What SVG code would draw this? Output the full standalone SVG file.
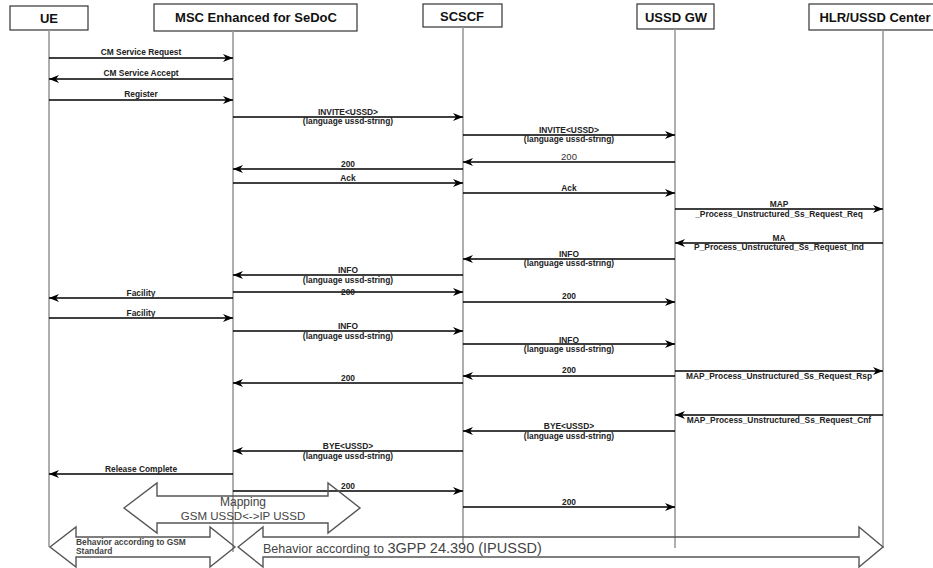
<svg xmlns="http://www.w3.org/2000/svg" width="933" height="568" viewBox="0 0 933 568">
  <defs>
    <marker id="ah" viewBox="0 0 10 8" refX="10" refY="4" markerWidth="10" markerHeight="8" markerUnits="userSpaceOnUse" orient="auto">
      <path d="M0,0 L10,4 L0,8 L3,4 z" fill="#000"/>
    </marker>
    <style>
      .box { fill: #fff; stroke: #333; stroke-width: 1.2; }
      .hdr { font-family: "Liberation Sans", Arial, sans-serif; font-weight: bold; font-size: 13px; fill: #111; text-anchor: middle; }
      .life { stroke: #9a9a9a; stroke-width: 1.6; }
      .msg { stroke: #000; stroke-width: 1.4; fill: none; marker-end: url(#ah); }
      .lbl { font-family: "Liberation Sans", Arial, sans-serif; font-weight: bold; font-size: 8.4px; fill: #222; text-anchor: middle; }
      .lbl2 { font-family: "Liberation Sans", Arial, sans-serif; font-size: 9.5px; fill: #333; text-anchor: middle; }
      .blk { fill: none; stroke: #555; stroke-width: 1.4; stroke-linejoin: miter; }
      .note { font-family: "Liberation Sans", Arial, sans-serif; fill: #444; }
    </style>
  </defs>
  <rect width="933" height="568" fill="#fff"/>

  <!-- participants with their lifelines -->
  <g id="ue">
    <rect class="box" x="10" y="6" width="78" height="24"/>
    <text class="hdr" x="49" y="23">UE</text>
    <line class="life" x1="49" y1="30" x2="49" y2="547"/>
  </g>
  <g id="msc">
    <rect class="box" x="154" y="4" width="203" height="27"/>
    <text class="hdr" x="256" y="22">MSC Enhanced for SeDoC</text>
    <line class="life" x1="233" y1="31" x2="233" y2="552"/>
  </g>
  <g id="scscf">
    <rect class="box" x="423" y="4" width="79" height="23"/>
    <text class="hdr" x="462" y="21">SCSCF</text>
    <line class="life" x1="463" y1="27" x2="463" y2="545"/>
  </g>
  <g id="ussdgw">
    <rect class="box" x="637" y="4" width="77" height="25"/>
    <text class="hdr" x="676" y="22">USSD GW</text>
    <line class="life" x1="675" y1="29" x2="675" y2="548"/>
  </g>
  <g id="hlr">
    <rect class="box" x="809" y="4" width="130" height="26"/>
    <text class="hdr" x="875" y="22">HLR/USSD Center</text>
    <line class="life" x1="883" y1="30" x2="883" y2="548"/>
  </g>

  <!-- messages -->
  <g id="messages">
    <line class="msg" x1="49" y1="58" x2="233" y2="58"/>
    <text class="lbl" x="141" y="55">CM Service Request</text>

    <line class="msg" x1="233" y1="79" x2="49" y2="79"/>
    <text class="lbl" x="141" y="76">CM Service Accept</text>

    <line class="msg" x1="49" y1="100" x2="233" y2="100"/>
    <text class="lbl" x="141" y="97">Register</text>

    <line class="msg" x1="233" y1="117" x2="463" y2="117"/>
    <text class="lbl" x="348" y="115">INVITE&lt;USSD&gt;</text>
    <text class="lbl" x="348" y="124">(language ussd-string)</text>

    <line class="msg" x1="463" y1="135" x2="675" y2="135"/>
    <text class="lbl" x="569" y="133">INVITE&lt;USSD&gt;</text>
    <text class="lbl" x="569" y="142">(language ussd-string)</text>

    <line class="msg" x1="675" y1="162" x2="463" y2="162"/>
    <text class="lbl2" x="569" y="160">200</text>

    <line class="msg" x1="463" y1="169" x2="233" y2="169"/>
    <text class="lbl" x="348" y="167">200</text>

    <line class="msg" x1="233" y1="183" x2="463" y2="183"/>
    <text class="lbl" x="348" y="181">Ack</text>

    <line class="msg" x1="463" y1="193" x2="675" y2="193"/>
    <text class="lbl" x="569" y="191">Ack</text>

    <line class="msg" x1="675" y1="209" x2="883" y2="209"/>
    <text class="lbl" x="779" y="207">MAP</text>
    <text class="lbl" x="779" y="217">_Process_Unstructured_Ss_Request_Req</text>

    <line class="msg" x1="883" y1="243" x2="675" y2="243"/>
    <text class="lbl" x="779" y="241">MA</text>
    <text class="lbl" x="779" y="250">P_Process_Unstructured_Ss_Request_Ind</text>

    <line class="msg" x1="675" y1="259" x2="463" y2="259"/>
    <text class="lbl" x="569" y="257">INFO</text>
    <text class="lbl" x="569" y="266">(language ussd-string)</text>

    <line class="msg" x1="463" y1="275" x2="233" y2="275"/>
    <text class="lbl" x="348" y="273">INFO</text>
    <text class="lbl" x="348" y="283">(language ussd-string)</text>

    <line class="msg" x1="233" y1="292" x2="463" y2="292"/>
    <text class="lbl" x="348" y="295">200</text>

    <line class="msg" x1="233" y1="298" x2="49" y2="298"/>
    <text class="lbl" x="141" y="296">Facility</text>

    <line class="msg" x1="463" y1="302" x2="675" y2="302"/>
    <text class="lbl" x="569" y="299">200</text>

    <line class="msg" x1="49" y1="318" x2="233" y2="318"/>
    <text class="lbl" x="141" y="316">Facility</text>

    <line class="msg" x1="233" y1="331" x2="463" y2="331"/>
    <text class="lbl" x="348" y="329">INFO</text>
    <text class="lbl" x="348" y="339">(language ussd-string)</text>

    <line class="msg" x1="463" y1="344" x2="675" y2="344"/>
    <text class="lbl" x="569" y="343">INFO</text>
    <text class="lbl" x="569" y="352">(language ussd-string)</text>

    <line class="msg" x1="675" y1="371" x2="883" y2="371"/>
    <text class="lbl" x="779" y="379">MAP_Process_Unstructured_Ss_Request_Rsp</text>

    <line class="msg" x1="675" y1="376" x2="463" y2="376"/>
    <text class="lbl" x="569" y="373">200</text>

    <line class="msg" x1="463" y1="383" x2="233" y2="383"/>
    <text class="lbl" x="348" y="381">200</text>

    <line class="msg" x1="883" y1="415" x2="675" y2="415"/>
    <text class="lbl" x="779" y="423">MAP_Process_Unstructured_Ss_Request_Cnf</text>

    <line class="msg" x1="675" y1="431" x2="463" y2="431"/>
    <text class="lbl" x="569" y="429">BYE&lt;USSD&gt;</text>
    <text class="lbl" x="569" y="439">(language ussd-string)</text>

    <line class="msg" x1="463" y1="451" x2="233" y2="451"/>
    <text class="lbl" x="348" y="449">BYE&lt;USSD&gt;</text>
    <text class="lbl" x="348" y="459">(language ussd-string)</text>

    <line class="msg" x1="233" y1="474" x2="49" y2="474"/>
    <text class="lbl" x="141" y="472">Release Complete</text>

    <line class="msg" x1="233" y1="491" x2="463" y2="491"/>
    <text class="lbl" x="348" y="489">200</text>

    <line class="msg" x1="463" y1="507" x2="675" y2="507"/>
    <text class="lbl" x="569" y="505">200</text>
  </g>

  <!-- scope arrows -->
  <g id="mapping">
    <polygon class="blk" points="124,508 157,483 157,496 328,496 328,483 360,508 328,533 328,523 157,523 157,533"/>
    <text class="note" x="243" y="506" font-size="12" text-anchor="middle">Mapping</text>
    <text class="note" x="243" y="520" font-size="11.5" text-anchor="middle">GSM USSD&lt;-&gt;IP USSD</text>
  </g>
  <g id="gsm-scope">
    <polygon class="blk" points="50,547 76,527 76,537 210,537 210,527 235,547 210,567 210,557 76,557 76,567"/>
    <text class="note" x="76" y="545" font-size="8.4" font-weight="bold">Behavior according to GSM</text>
    <text class="note" x="76" y="554" font-size="8.4" font-weight="bold">Standard</text>
  </g>
  <g id="ipussd-scope">
    <polygon class="blk" points="238,547 263,527 263,537 859,537 859,527 883,547 859,567 859,557 263,557 263,567"/>
    <text class="note" x="263" y="553" font-size="12.5">Behavior according to <tspan font-size="14.5">3GPP 24.390 (IPUSSD)</tspan></text>
  </g>
</svg>
